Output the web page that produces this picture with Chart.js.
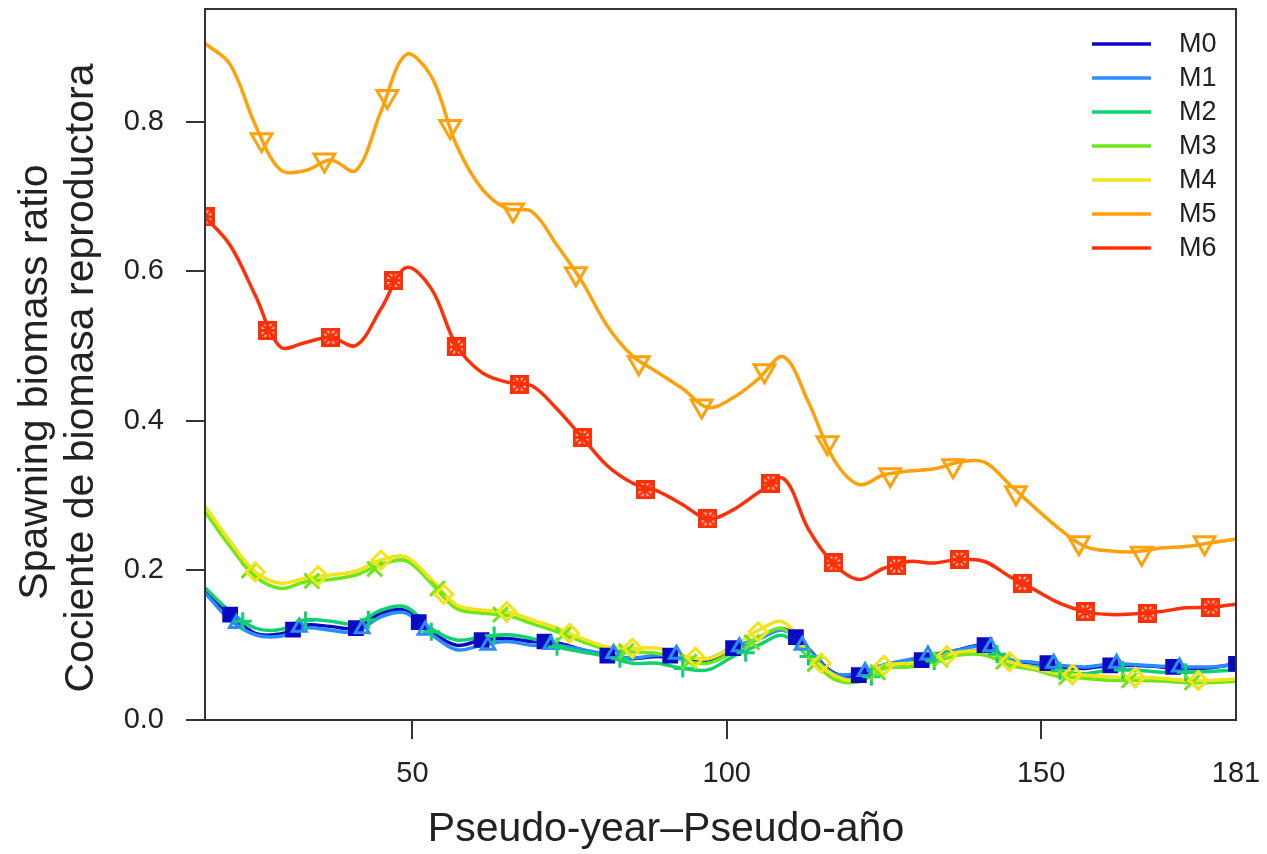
<!DOCTYPE html>
<html>
<head>
<meta charset="utf-8">
<script src="https://cdn.jsdelivr.net/npm/chart.js@4"></script>
<style>
    body { margin: 0; background: #fff; }
    #wrap { width: 1267px; height: 854px; }
</style>
</head>
<body>
<div id="wrap"><canvas id="sbrChart" width="1267" height="854"></canvas></div>
<script>
// pseudo-years where the curves were read
const years = [17, 21, 25, 29, 33, 37, 41, 45, 49, 53, 57, 61, 65, 69, 73, 77, 81, 85, 89, 93,
    97, 101, 105, 109, 113, 117, 121, 125, 129, 133, 137, 141, 145, 149, 153, 157, 161, 165, 169, 173, 177, 181];

const m0 = [0.172, 0.141, 0.116, 0.115, 0.127, 0.125, 0.123, 0.143, 0.146, 0.118, 0.100, 0.107, 0.109, 0.105, 0.103, 0.094, 0.086, 0.082, 0.085, 0.082,
    0.080, 0.096, 0.109, 0.122, 0.095, 0.063, 0.060, 0.073, 0.080, 0.087, 0.094, 0.100, 0.080, 0.076, 0.071, 0.069, 0.073, 0.073, 0.071, 0.069, 0.070, 0.075];
const m1 = [0.170, 0.134, 0.114, 0.112, 0.123, 0.120, 0.118, 0.138, 0.143, 0.115, 0.094, 0.100, 0.105, 0.100, 0.100, 0.094, 0.088, 0.083, 0.087, 0.085,
    0.082, 0.097, 0.108, 0.120, 0.094, 0.062, 0.063, 0.074, 0.081, 0.088, 0.094, 0.099, 0.081, 0.077, 0.073, 0.071, 0.075, 0.074, 0.072, 0.071, 0.071, 0.074];
const m2 = [0.177, 0.145, 0.123, 0.121, 0.134, 0.132, 0.129, 0.147, 0.151, 0.122, 0.107, 0.111, 0.114, 0.109, 0.098, 0.091, 0.085, 0.076, 0.076, 0.069,
    0.067, 0.085, 0.100, 0.113, 0.085, 0.058, 0.055, 0.069, 0.076, 0.082, 0.089, 0.093, 0.073, 0.071, 0.064, 0.062, 0.067, 0.067, 0.064, 0.064, 0.065, 0.067];
const m3 = [0.279, 0.232, 0.192, 0.176, 0.185, 0.188, 0.194, 0.208, 0.213, 0.183, 0.149, 0.143, 0.140, 0.129, 0.118, 0.105, 0.094, 0.091, 0.089, 0.080,
    0.076, 0.091, 0.110, 0.122, 0.085, 0.055, 0.051, 0.069, 0.071, 0.078, 0.087, 0.087, 0.073, 0.067, 0.058, 0.056, 0.053, 0.053, 0.052, 0.050, 0.050, 0.052];
const m4 = [0.286, 0.239, 0.198, 0.183, 0.190, 0.194, 0.199, 0.214, 0.218, 0.188, 0.154, 0.147, 0.145, 0.134, 0.123, 0.109, 0.098, 0.096, 0.096, 0.086,
    0.082, 0.098, 0.120, 0.131, 0.089, 0.060, 0.053, 0.073, 0.076, 0.082, 0.091, 0.091, 0.078, 0.069, 0.062, 0.060, 0.058, 0.057, 0.056, 0.053, 0.053, 0.055];
const m5 = [0.905, 0.877, 0.796, 0.736, 0.735, 0.749, 0.735, 0.814, 0.890, 0.861, 0.769, 0.711, 0.684, 0.680, 0.635, 0.586, 0.527, 0.487, 0.465, 0.443,
    0.418, 0.431, 0.456, 0.486, 0.425, 0.349, 0.315, 0.328, 0.333, 0.336, 0.345, 0.345, 0.315, 0.284, 0.255, 0.232, 0.226, 0.225, 0.230, 0.232, 0.237, 0.242];
const m6 = [0.673, 0.635, 0.568, 0.499, 0.505, 0.512, 0.501, 0.550, 0.605, 0.577, 0.501, 0.465, 0.452, 0.447, 0.416, 0.378, 0.340, 0.317, 0.306, 0.288,
    0.269, 0.281, 0.304, 0.323, 0.255, 0.209, 0.188, 0.203, 0.212, 0.210, 0.215, 0.212, 0.192, 0.174, 0.156, 0.145, 0.141, 0.142, 0.145, 0.150, 0.151, 0.155];

// marker positions (every 10 pseudo-years, offset per model)
const m0MarkX = [21, 31, 41, 51, 61, 71, 81, 91, 101, 111, 121, 131, 141, 151, 161, 171, 181];
const m0MarkY = [0.141, 0.121, 0.123, 0.131, 0.107, 0.105, 0.086, 0.086, 0.096, 0.111, 0.060, 0.080, 0.100, 0.076, 0.073, 0.071, 0.075];
const m1MarkX = [22, 32, 42, 52, 62, 72, 82, 92, 102, 112, 122, 132, 142, 152, 162, 172];
const m1MarkY = [0.129, 0.124, 0.122, 0.120, 0.100, 0.101, 0.089, 0.088, 0.098, 0.100, 0.065, 0.087, 0.098, 0.076, 0.076, 0.071];
const m2MarkX = [23, 33, 43, 53, 63, 73, 83, 93, 103, 113, 123, 133, 143, 153, 163, 173];
const m2MarkY = [0.132, 0.133, 0.134, 0.118, 0.113, 0.098, 0.082, 0.069, 0.090, 0.085, 0.058, 0.079, 0.088, 0.066, 0.067, 0.064];
const m3MarkX = [24, 34, 44, 54, 64, 74, 84, 94, 104, 114, 124, 134, 144, 154, 164, 174];
const m3MarkY = [0.200, 0.186, 0.202, 0.176, 0.141, 0.114, 0.092, 0.078, 0.104, 0.075, 0.064, 0.081, 0.078, 0.057, 0.053, 0.050];
const m4MarkX = [25, 35, 45, 55, 65, 75, 85, 95, 105, 115, 125, 135, 145, 155, 165, 175];
const m4MarkY = [0.198, 0.193, 0.214, 0.168, 0.145, 0.116, 0.096, 0.084, 0.118, 0.076, 0.073, 0.086, 0.078, 0.061, 0.057, 0.053];
const m5MarkX = [26, 36, 46, 56, 66, 76, 86, 96, 106, 116, 126, 136, 146, 156, 166, 176];
const m5MarkY = [0.776, 0.749, 0.834, 0.794, 0.682, 0.597, 0.478, 0.420, 0.467, 0.371, 0.328, 0.340, 0.304, 0.237, 0.223, 0.237];
const m6MarkX = [17, 27, 37, 47, 57, 67, 77, 87, 97, 107, 117, 127, 137, 147, 157, 167, 177];
const m6MarkY = [0.673, 0.521, 0.512, 0.588, 0.499, 0.449, 0.378, 0.308, 0.269, 0.317, 0.210, 0.206, 0.215, 0.183, 0.145, 0.143, 0.151];

const seriesNames = ["M0", "M1", "M2", "M3", "M4", "M5", "M6"];
const xTicks = [50, 100, 150, 181];
const yTicks = [0, 0.2, 0.4, 0.6, 0.8];

const FONT = "'Liberation Sans', Arial, sans-serif";
const colors = ["#0a0ac4", "#2a8cff", "#10d070", "#6ee618", "#f2e41c", "#ffa10a", "#ff3008"];

// square with an x inside, like R's pch 7 drawn thick
function squareX(color) {
    const c = document.createElement("canvas");
    c.width = 19; c.height = 19;
    const g = c.getContext("2d");
    g.strokeStyle = color;
    g.lineWidth = 3.4;
    g.strokeRect(1.7, 1.7, 15.6, 15.6);
    g.lineWidth = 2.8;
    g.beginPath();
    g.moveTo(2, 2); g.lineTo(17, 17);
    g.moveTo(17, 2); g.lineTo(2, 17);
    g.moveTo(9.5, 2); g.lineTo(9.5, 17);
    g.moveTo(2, 9.5); g.lineTo(17, 9.5);
    g.stroke();
    return c;
}

const lineValues = [m0, m1, m2, m3, m4, m5, m6];
const markX = [m0MarkX, m1MarkX, m2MarkX, m3MarkX, m4MarkX, m5MarkX, m6MarkX];
const markY = [m0MarkY, m1MarkY, m2MarkY, m3MarkY, m4MarkY, m5MarkY, m6MarkY];
const markStyle = [
    { pointStyle: "rect", radius: 9, fill: true, rotation: 0 },
    { pointStyle: "triangle", radius: 8, fill: false, rotation: 0 },
    { pointStyle: "cross", radius: 9, fill: false, rotation: 0 },
    { pointStyle: "crossRot", radius: 10.5, fill: false, rotation: 0 },
    { pointStyle: "rectRot", radius: 9, fill: false, rotation: 0 },
    { pointStyle: "triangle", radius: 12, fill: false, rotation: 180 },
    { pointStyle: squareX(colors[6]), radius: 9.5, fill: false, rotation: 0 }
];

const datasets = [];
seriesNames.forEach((name, i) => {
    datasets.push({
        label: name,
        data: years.map((x, k) => ({ x: x, y: lineValues[i][k] })),
        borderColor: colors[i],
        borderWidth: 3.5,
        pointRadius: 0,
        tension: 0.35,
        fill: false,
        order: 20 - i
    });
    const st = markStyle[i];
    datasets.push({
        label: name + " pts",
        data: markX[i].map((x, k) => ({ x: x, y: markY[i][k] })),
        showLine: false,
        pointStyle: st.pointStyle,
        pointRadius: st.radius,
        pointRotation: st.rotation,
        pointBorderColor: colors[i],
        pointBackgroundColor: st.fill ? colors[i] : "rgba(0,0,0,0)",
        pointBorderWidth: 3,
        order: 10 - i
    });
});

// box, axis titles and legend drawn on the canvas
const decorations = {
    id: "decorations",
    afterDraw(chart) {
        const ctx = chart.ctx;
        const a = chart.chartArea;
        ctx.save();
        ctx.strokeStyle = "#333";
        ctx.lineWidth = 2;
        ctx.strokeRect(a.left, a.top, a.right - a.left, a.bottom - a.top);

        ctx.fillStyle = "#222";
        ctx.font = "41px " + FONT;
        ctx.textAlign = "center";
        ctx.textBaseline = "middle";
        ctx.fillText("Pseudo-year\u2013Pseudo-a\u00f1o", 666, 830);

        ctx.save();
        ctx.translate(36, 382);
        ctx.rotate(-Math.PI / 2);
        ctx.fillText("Spawning biomass ratio", 0, 0);
        ctx.restore();
        ctx.save();
        ctx.translate(82, 378);
        ctx.rotate(-Math.PI / 2);
        ctx.fillText("Cociente de biomasa reproductora", 0, 0);
        ctx.restore();

        // legend
        ctx.font = "27px " + FONT;
        ctx.textAlign = "left";
        seriesNames.forEach((name, i) => {
            const y = 44 + i * 34;
            ctx.strokeStyle = colors[i];
            ctx.lineWidth = 3.5;
            ctx.beginPath();
            ctx.moveTo(1092, y);
            ctx.lineTo(1151, y);
            ctx.stroke();
            ctx.fillStyle = "#222";
            ctx.fillText(name, 1179, y + 1);
        });
        ctx.restore();
    }
};

const canvas = document.getElementById("sbrChart");
new Chart(canvas.getContext("2d"), {
    type: "line",
    data: { datasets },
    options: {
        responsive: false,
        animation: false,
        layout: { autoPadding: false, padding: { top: 9, right: 31, left: 0, bottom: 0 } },
        plugins: {
            legend: { display: false },
            tooltip: { enabled: false }
        },
        scales: {
            x: {
                type: "linear",
                min: 17,
                max: 181,
                afterBuildTicks: scale => { scale.ticks = xTicks.map(v => ({ value: v })); },
                afterFit: scale => {
                    scale.height = 134;
                    scale.paddingLeft = 0;
                    scale.paddingRight = 0;
                },
                grid: {
                    drawOnChartArea: false,
                    drawTicks: true,
                    tickLength: 19,
                    lineWidth: 2,
                    color: c => (c.tick && c.tick.value === 181 ? "rgba(0,0,0,0)" : "#333")
                },
                border: { display: true, color: "#333", width: 2 },
                ticks: {
                    font: { size: 29, family: FONT },
                    color: "#222",
                    padding: 18,
                    maxRotation: 0,
                    autoSkip: false,
                    callback: v => String(v)
                }
            },
            y: {
                min: 0,
                max: 0.951,
                afterBuildTicks: scale => { scale.ticks = yTicks.map(v => ({ value: v })); },
                afterFit: scale => {
                    scale.width = 205;
                    scale.paddingTop = 0;
                    scale.paddingBottom = 0;
                },
                grid: {
                    drawOnChartArea: false,
                    drawTicks: true,
                    tickLength: 19,
                    lineWidth: 2,
                    color: "#333"
                },
                border: { display: true, color: "#333", width: 2 },
                ticks: {
                    font: { size: 29, family: FONT },
                    color: "#222",
                    padding: 22,
                    callback: v => v.toFixed(1)
                }
            }
        }
    },
    plugins: [decorations]
});
</script>
</body>
</html>
